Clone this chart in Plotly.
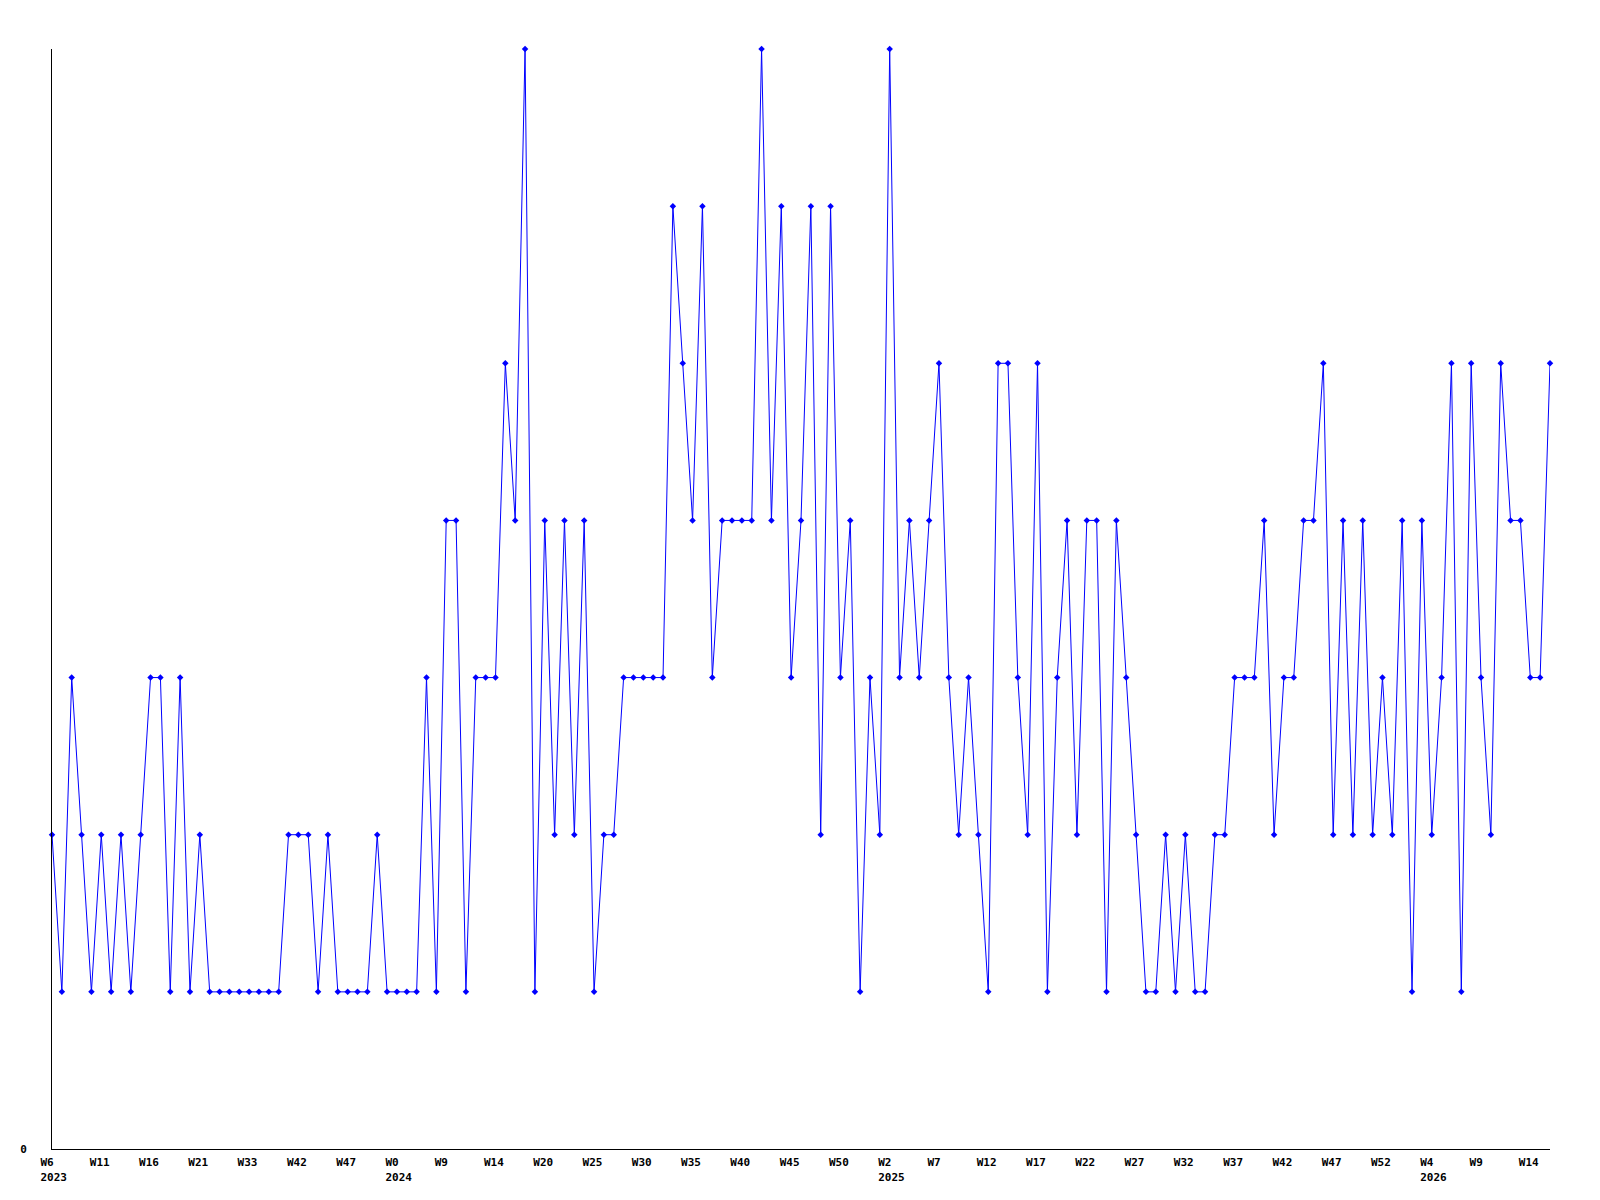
import plotly.graph_objects as go

values = [
    2, 1, 3, 2, 1, 2, 1, 2, 1, 2, 3, 3, 1, 3, 1, 2, 1,
    1, 1, 1, 1, 1, 1, 1,
    2, 2, 2, 1, 2, 1, 1, 1, 1, 2, 1, 1, 1, 1, 3, 1, 4, 4, 1,
    3, 3, 3, 5, 4, 7, 1, 4, 2, 4, 2, 4, 1, 2, 2,
    3, 3, 3, 3, 3, 6, 5, 4, 6, 3, 4, 4, 4, 4, 7, 4, 6, 3, 4, 6, 2, 6, 3, 4, 1, 3, 2, 7,
    3, 4, 3, 4, 5, 3, 2, 3, 2, 1, 5, 5, 3, 2, 5, 1, 3, 4, 2, 4, 4, 1, 4, 3, 2, 1, 1, 2, 1, 2, 1, 1, 2, 2,
    3, 3, 3, 4, 2, 3, 3, 4, 4, 5, 2, 4, 2, 4, 2, 3, 2, 4, 1, 4, 2, 3, 5, 1, 5, 3, 2, 5, 4, 4, 3, 3, 5,
]

tick_labels = [
    "W6<br>2023", "W11", "W16", "W21", "W33", "W42", "W47", "W0<br>2024", "W9", "W14", "W20",
    "W25", "W30", "W35", "W40", "W45", "W50", "W2<br>2025", "W7", "W12", "W17", "W22",
    "W27", "W32", "W37", "W42", "W47", "W52", "W4<br>2026", "W9", "W14",
]
tick_step = 5

x = list(range(len(values)))
tickvals = [i * tick_step for i in range(len(tick_labels))]

font = dict(family="DejaVu Sans Mono", size=11, color="black", weight="bold")

fig = go.Figure()
fig.add_trace(go.Scatter(
    x=x, y=values, mode="lines+markers",
    line=dict(color="#0000FF", width=1),
    marker=dict(symbol="diamond", size=5, color="#0000FF"),
    cliponaxis=False,
    showlegend=False,
))

fig.update_layout(
    width=1600, height=1200,
    paper_bgcolor="white", plot_bgcolor="white",
    margin=dict(l=42, r=58, t=41, b=59),
    font=font,
    xaxis=dict(
        range=[0, len(values) - 1], showgrid=False, zeroline=False,
        showline=True, linecolor="black", linewidth=1,
        tickmode="array", tickvals=tickvals, ticktext=tick_labels,
        ticks="", ticklabelposition="outside right", ticklabelshift=-12,
        ticklabelstandoff=3, tickfont=font,
    ),
    yaxis=dict(
        range=[0, 7], showgrid=False, zeroline=False,
        showline=True, linecolor="black", linewidth=1,
        tickmode="array", tickvals=[0], ticktext=["0"],
        ticks="", ticklabelstandoff=22, tickfont=font,
    ),
)

fig.write_html("out.html")
